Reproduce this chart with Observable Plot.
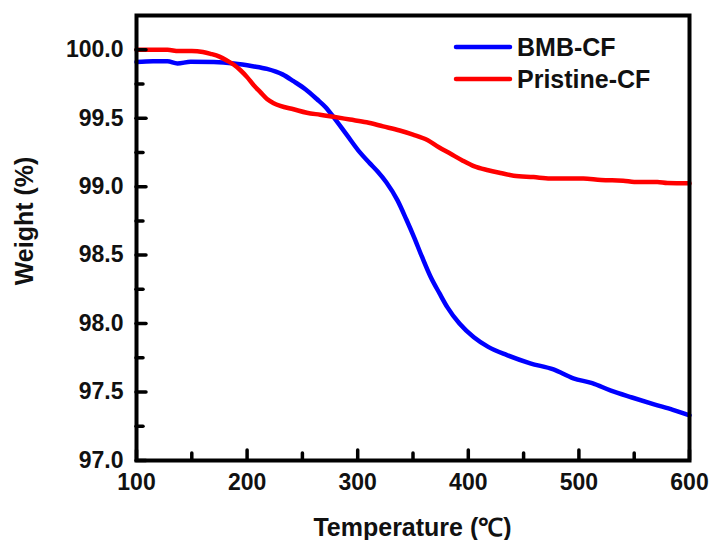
<!DOCTYPE html>
<html>
<head>
<meta charset="utf-8">
<script src="https://cdn.jsdelivr.net/npm/d3@7"></script>
<script src="https://cdn.jsdelivr.net/npm/@observablehq/plot@0.6"></script>
<style>
  html, body { margin: 0; padding: 0; background: #fff; }
  #chart { width: 710px; height: 540px; }
  svg { font-family: "Liberation Sans", Arial, sans-serif; }
</style>
</head>
<body>
<div id="chart"></div>
<script>
// ---- data ----
const bmbT = [100, 115, 128, 137, 149, 170, 188, 205, 218, 232, 242, 253, 263, 271, 278, 290, 302, 311, 318, 326, 336, 344, 351, 358, 366, 374, 381, 392, 405, 418, 435, 456, 477, 495, 512, 529, 548, 568, 585, 600];
const bmbW = [99.91, 99.915, 99.915, 99.90, 99.912, 99.91, 99.90, 99.88, 99.86, 99.82, 99.77, 99.71, 99.64, 99.58, 99.51, 99.38, 99.25, 99.17, 99.11, 99.03, 98.90, 98.76, 98.63, 98.49, 98.34, 98.22, 98.12, 98.00, 97.90, 97.83, 97.77, 97.71, 97.665, 97.60, 97.565, 97.51, 97.46, 97.41, 97.37, 97.33];
const priT = [100, 115, 128, 138, 150, 160, 167, 175, 182, 188, 194, 200, 206, 212, 218, 224, 230, 242, 254, 266, 278, 293, 308, 323, 338, 350, 363, 373, 384, 395, 405, 418, 429, 441, 459, 474, 490, 504, 520, 540, 550, 571, 580, 600];
const priW = [100.0, 100.0, 100.0, 99.99, 99.99, 99.983, 99.97, 99.95, 99.92, 99.89, 99.85, 99.80, 99.74, 99.69, 99.64, 99.61, 99.59, 99.565, 99.54, 99.525, 99.51, 99.49, 99.47, 99.44, 99.41, 99.38, 99.34, 99.29, 99.24, 99.19, 99.15, 99.12, 99.10, 99.08, 99.07, 99.06, 99.06, 99.06, 99.048, 99.044, 99.034, 99.034, 99.026, 99.024];
const seriesNames = ["BMB-CF", "Pristine-CF"];
const seriesColors = ["#0000ff", "#ff0000"];
const xMajor = [100, 200, 300, 400, 500, 600];
const xMinor = [150, 250, 350, 450, 550];
const yMajor = [97.0, 97.5, 98.0, 98.5, 99.0, 99.5, 100.0];
const yMinor = [97.25, 97.75, 98.25, 98.75, 99.25, 99.75];
const xTitle = "Temperature (℃)";
const yTitle = "Weight (%)";

const data = [
  ...bmbT.map((t, i) => ({series: seriesNames[0], T: t, W: bmbW[i]})),
  ...priT.map((t, i) => ({series: seriesNames[1], T: t, W: priW[i]}))
];

const W = 710, H = 540;
const mL = 136, mR = 21, mT = 15, mB = 80;
const pw = W - mL - mR, ph = H - mT - mB;

const chart = Plot.plot({
  width: W, height: H,
  marginLeft: mL, marginRight: mR, marginTop: mT, marginBottom: mB,
  x: {domain: [100, 600]},
  y: {domain: [97, 100.25]},
  color: {domain: seriesNames, range: seriesColors},
  style: {fontFamily: "Liberation Sans, Arial, sans-serif", background: "#fff"},
  marks: [
    Plot.line(data, {x: "T", y: "W", z: "series", stroke: "series", strokeWidth: 4.5, curve: "monotone-x"}),
    Plot.tickX(xMajor, {x: d => d, insetTop: ph - 10, strokeWidth: 3.5, strokeLinecap: "round"}),
    Plot.tickX(xMinor, {x: d => d, insetTop: ph - 7, strokeWidth: 3.5, strokeLinecap: "round"}),
    Plot.tickY(yMajor, {y: d => d, insetRight: pw - 10, strokeWidth: 3.5, strokeLinecap: "round"}),
    Plot.tickY(yMinor, {y: d => d, insetRight: pw - 7, strokeWidth: 3.5, strokeLinecap: "round"}),
    Plot.axisX({ticks: xMajor, tickSize: 0, tickPadding: 13, tickFormat: d => String(d), fontSize: 23, label: null}),
    Plot.axisY({ticks: yMajor, tickSize: 0, tickPadding: 13, tickFormat: d => d.toFixed(1), fontSize: 23, label: null}),
    Plot.frame({strokeWidth: 4})
  ]
});

const svg = d3.select(chart);
svg.selectAll("g[aria-label='x-axis tick label'], g[aria-label='y-axis tick label']")
  .attr("font-weight", "bold").attr("font-size", 23).attr("fill", "#111");
svg.selectAll("g[aria-label='x-axis tick label'] text, g[aria-label='y-axis tick label'] text")
  .attr("font-weight", "bold").attr("fill", "#111");

// axis titles
svg.append("text")
  .attr("x", mL + pw / 2).attr("y", 536)
  .attr("text-anchor", "middle")
  .attr("font-size", 25).attr("font-weight", "bold").attr("fill", "#111")
  .text(xTitle);
svg.append("text")
  .attr("transform", `translate(33, 221) rotate(-90)`)
  .attr("text-anchor", "middle")
  .attr("font-size", 25).attr("font-weight", "bold").attr("fill", "#111")
  .text(yTitle);

// legend
const lg = svg.append("g");
seriesNames.forEach((name, i) => {
  const y = 47 + i * 32;
  lg.append("line").attr("x1", 456).attr("x2", 510).attr("y1", y).attr("y2", y)
    .attr("stroke", seriesColors[i]).attr("stroke-width", 4.5).attr("stroke-linecap", "round");
  lg.append("text").attr("x", 517).attr("y", y).attr("dy", "0.36em")
    .attr("text-anchor", "start")
    .attr("font-size", 25).attr("font-weight", "bold").attr("fill", "#111")
    .text(name);
});

document.getElementById("chart").appendChild(chart);
</script>
</body>
</html>
